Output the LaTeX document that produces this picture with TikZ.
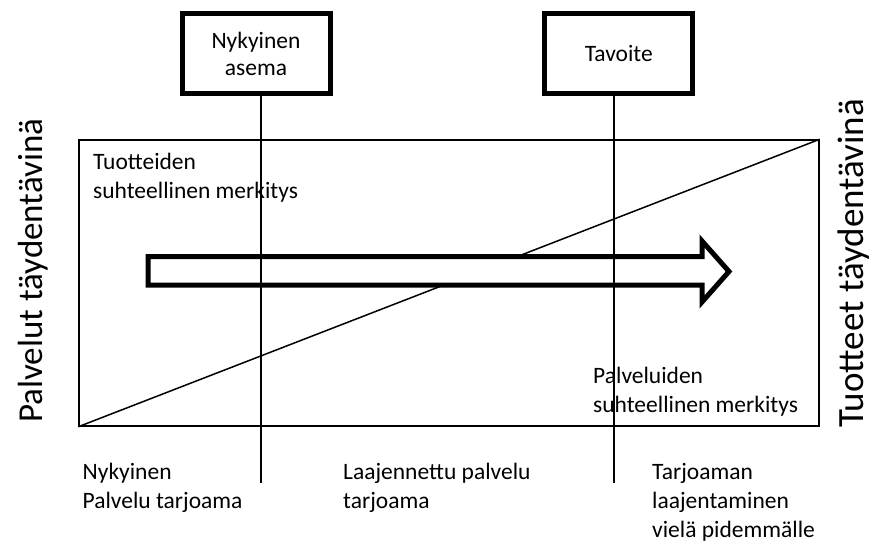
\documentclass[tikz,border=0pt]{standalone}
\usepackage{fontspec}
\setmainfont{Carlito}
\begin{document}
\begin{tikzpicture}[x=1pt,y=-1pt,
  label text/.style={font=\fontsize{23.5}{29}\selectfont, inner sep=0pt, align=left, anchor=base west},
  side text/.style={inner sep=0pt, rotate=90, anchor=base west},
  stage box/.style={draw, line width=5pt, minimum width=148pt, minimum height=79pt,
    align=center, font=\fontsize{23.5}{27}\selectfont, inner sep=0pt},
  guide line/.style={line width=1.3pt},
  frame line/.style={line width=1.5pt},
  big arrow/.style={line width=5pt, fill=white, line join=miter, miter limit=10}]
\useasboundingbox (0,0) rectangle (877,543);

% field of product / service weight
\node[draw, frame line, minimum width=740pt, minimum height=286pt, inner sep=0pt] (frame) at (449,283) {};
\draw[frame line] (frame.south west) -- (frame.north east);

% direction of development
\draw[big arrow] (148,256.5) -- (702,256.5) -- (702,241) -- (729,271.5) -- (702,302)
  -- (702,285) -- (148,285) -- cycle;

% stages
\node[stage box] (now) at (256,53.5) {Nykyinen\\asema};
\node[stage box] (goal) at (618.75,53.5) {Tavoite};
\coordinate (nowend) at (261,483);
\coordinate (goalend) at (614,483);
\draw[guide line] (now.south -| nowend) -- (nowend);
\draw[guide line] (goal.south -| goalend) -- (goalend);

% texts inside the field (anchored at the baseline of the last line)
\node[label text] (prod) at (93,198) {Tuotteiden\\suhteellinen merkitys};
\node[label text] (serv) at (593,412) {Palveluiden\\suhteellinen merkitys};

% phases below
\node[label text] (p1) at (82.5,508) {Nykyinen\\Palvelu tarjoama};
\node[label text] (p2) at (343,508) {Laajennettu palvelu\\tarjoama};
\node[label text] (p3) at (652,537) {Tarjoaman\\laajentaminen\\vielä pidemmälle};

% side captions
\node[side text, font=\fontsize{35}{42}\selectfont] (left) at (42,423) {Palvelut täydentävinä};
\node[side text, font=\fontsize{37}{44}\selectfont] (right) at (863,428) {Tuotteet täydentävinä};
\end{tikzpicture}
\end{document}
